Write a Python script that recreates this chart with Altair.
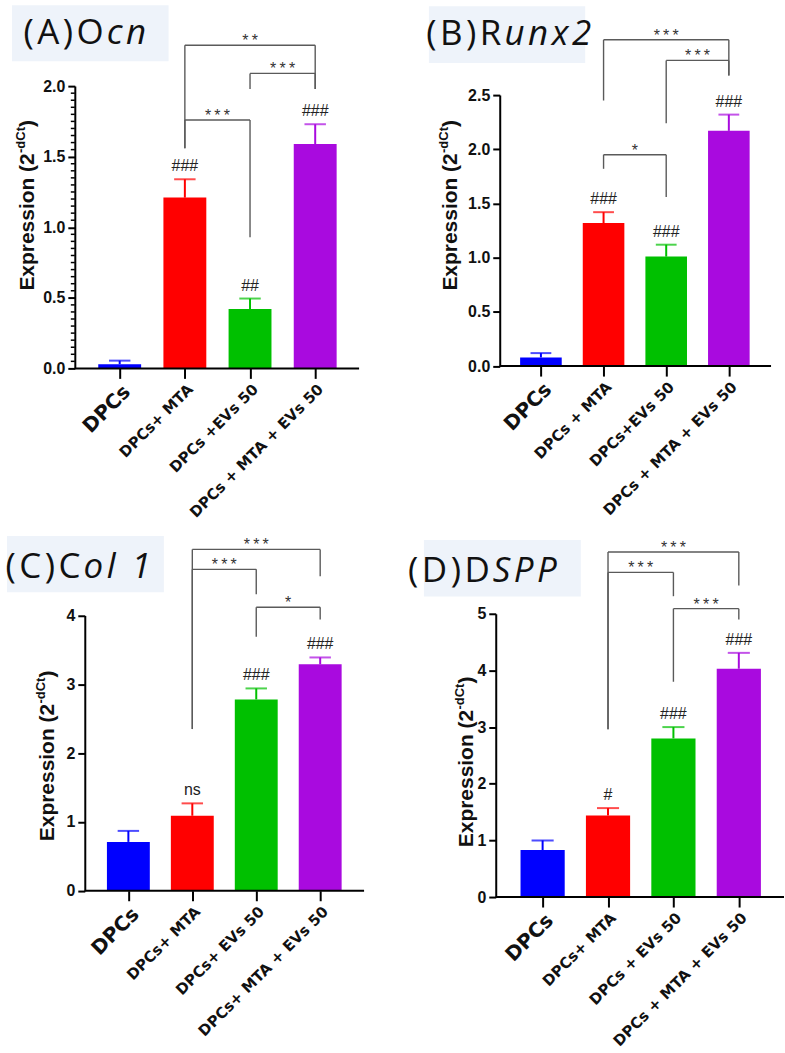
import altair as alt
import numpy as np
import pandas as pd

# ---------------------------------------------------------------- data
bar_colors = ["#0000FF", "#FF0000", "#00C000", "#A90ADF"]

labels_a = ["DPCs", "DPCs+ MTA", "DPCs +EVs 50", "DPCs + MTA + EVs 50"]
mean_a = [0.03, 1.21, 0.42, 1.59]
sem_a = [0.025, 0.13, 0.075, 0.14]
marks_a = ["", "###", "##", "###"]
# (left group, right group, bracket height, left foot, right foot, label)
brackets_a = [(1, 3, 2.29, 1.56, 1.98, "**"),
              (2, 3, 2.09, 1.98, 1.98, "***"),
              (1, 2, 1.76, 1.56, 0.93, "***")]

labels_b = ["DPCs", "DPCs + MTA", "DPCs+EVs 50", "DPCs + MTA + EVs 50"]
mean_b = [0.08, 1.32, 1.01, 2.17]
sem_b = [0.04, 0.10, 0.11, 0.15]
marks_b = ["", "###", "###", "###"]
brackets_b = [(1, 3, 3.01, 2.45, 2.68, "***"),
              (2, 3, 2.82, 2.24, 2.68, "***"),
              (1, 2, 1.95, 1.82, 1.56, "*")]

labels_c = ["DPCs", "DPCs+ MTA", "DPCs+ EVs 50", "DPCs+ MTA + EVs 50"]
mean_c = [0.71, 1.09, 2.78, 3.29]
sem_c = [0.16, 0.18, 0.16, 0.10]
marks_c = ["", "ns", "###", "###"]
brackets_c = [(1, 3, 4.96, 2.35, 4.57, "***"),
              (1, 2, 4.67, 2.35, 4.31, "***"),
              (2, 3, 4.12, 3.69, 3.94, "*")]

labels_d = ["DPCs", "DPCs+ MTA", "DPCs + EVs 50", "DPCs + MTA + EVs 50"]
mean_d = [0.83, 1.44, 2.80, 4.03]
sem_d = [0.17, 0.13, 0.20, 0.28]
marks_d = ["", "#", "###", "###"]
brackets_d = [(1, 3, 6.09, 2.96, 5.50, "***"),
              (1, 2, 5.73, 2.96, 5.31, "***"),
              (2, 3, 5.09, 3.80, 4.90, "***")]

ticks_a = [0, 0.5, 1.0, 1.5, 2.0]
ticks_b = [0, 0.5, 1.0, 1.5, 2.0, 2.5]
ticks_c = [0, 1, 2, 3, 4]
ticks_d = [0, 1, 2, 3, 4, 5]
minor_a = [round(v, 2) for v in np.arange(0.05, 2.0, 0.05) if abs(v / 0.5 - round(v / 0.5)) > 1e-6]

SANS = "Liberation Sans"
WIDE = "DejaVu Sans"
TITLE_FONT = "Open Sans"
BOX = "#EEF3FA"
INK = "#111111"
BRACKET = "#5a5a5a"
HAIR = "\u200a"
THIN = "\u2009"


def one():
    return pd.DataFrame({"k": [0]})


def panel(labels, means, sems, marks, brackets, ticks, fmt, lay, minor=None):
    n = len(labels)
    df = pd.DataFrame({
        "pos": list(range(n)),
        "mean": means,
        "upper": [m + s for m, s in zip(means, sems)],
        "mark": marks,
        "color": bar_colors,
    })
    names = ",".join("'" + s + "'" for s in labels)
    xs = alt.Scale(domain=[0, n - 1], range=lay["xr"], nice=False, zero=False, padding=0)
    ys = alt.Scale(domain=[0, ticks[-1]], range=lay["yr"], nice=False, zero=False, padding=0)
    xaxis = alt.Axis(
        values=list(range(n)), labelExpr="[" + names + "][datum.value]",
        domain=False, grid=False, title=None, offset=lay["xoff"],
        ticks=True, tickSize=10, tickWidth=2, tickColor="black",
        labelAngle=-45, labelFont=WIDE, labelFontWeight="bold", labelColor=INK,
        labelFontSize={"condition": {"test": "datum.value == 0", "value": 20}, "value": 15},
        labelPadding=3, labelOverlap=False, labelBound=False, labelFlush=False,
        labelLimit=0,
    )
    yaxis = alt.Axis(
        values=ticks, format=fmt, grid=False, title=None, offset=lay["yoff"],
        domain=True, domainWidth=2, domainColor="black",
        tickSize=7, tickWidth=2, tickColor="black",
        labelFont=SANS, labelFontWeight="bold", labelFontSize=16, labelColor=INK,
        labelPadding=3, labelFlush=False, labelOverlap=False,
    )

    def X(f):
        return alt.X(f, scale=xs, axis=xaxis)

    def Y(f):
        return alt.Y(f, scale=ys, axis=yaxis)

    C = alt.Color("color:N", scale=None)
    base = alt.Chart(df)
    bars = base.mark_bar(width=lay["bw"], orient="vertical").encode(
        x=X("pos:Q"), y=Y("mean:Q"), color=C)
    err = base.mark_rule(strokeWidth=2).encode(
        x=X("pos:Q"), y=Y("mean:Q"), y2="upper:Q", color=C)
    caps = base.mark_tick(orient="horizontal", size=lay["bw"] / 2, thickness=2).encode(
        x=X("pos:Q"), y=Y("upper:Q"), color=C)
    hashes = base.mark_text(font=SANS, fontSize=16, color="#222222", dy=-8,
                            baseline="alphabetic").encode(
        x=X("pos:Q"), y=Y("upper:Q"), text="mark:N")

    segs = []
    tags = []
    for l, r, top, fl, fr, lab in brackets:
        segs.append({"x": l, "x2": r, "y": top, "y2": top})
        segs.append({"x": l, "x2": l, "y": fl, "y2": top})
        segs.append({"x": r, "x2": r, "y": fr, "y2": top})
        tags.append({"x": (l + r) / 2, "y": top, "t": THIN.join(lab)})
    seg_chart = alt.Chart(pd.DataFrame(segs)).mark_rule(
        color=BRACKET, strokeWidth=1.4).encode(
        x=X("x:Q"), x2="x2:Q", y=Y("y:Q"), y2="y2:Q")
    tag_chart = alt.Chart(pd.DataFrame(tags)).mark_text(
        font=SANS, fontSize=16, color="#333333", baseline="alphabetic", dy=1).encode(
        x=X("x:Q"), y=Y("y:Q"), text="t:N")

    x0, x1 = lay["xline"]
    xline = alt.Chart(one()).mark_rule(color="black", strokeWidth=2).encode(
        x=alt.value(x0), x2=alt.value(x1), y=alt.value(lay["yr"][0]))

    # panel heading on a tinted card
    bx0, by0, bx1, by1 = lay["box"]
    card = alt.Chart(one()).mark_rect(color=BOX).encode(
        x=alt.value(bx0), x2=alt.value(bx1), y=alt.value(by0), y2=alt.value(by1))
    hy, ix = lay["head"]
    head1 = alt.Chart(one()).mark_text(
        text=HAIR.join(lay["h1"]), font=TITLE_FONT, fontSize=35, align="right",
        baseline="alphabetic", color="#111111").encode(x=alt.value(ix - 3), y=alt.value(hy))
    head2 = alt.Chart(one()).mark_text(
        text=HAIR.join(lay["h2"]), font=TITLE_FONT, fontSize=35, fontStyle="italic",
        align="left", baseline="alphabetic", color="#111111").encode(
        x=alt.value(ix), y=alt.value(hy))

    # y-axis title with a raised exponent
    tx, ty = lay["ytitle"]
    t_main = alt.Chart(one()).mark_text(
        text="Expression (2", font=SANS, fontWeight="bold", fontSize=21, angle=270,
        align="left", baseline="middle", color=INK).encode(x=alt.value(tx), y=alt.value(ty))
    t_sup = alt.Chart(one()).mark_text(
        text="-dCt", font=SANS, fontWeight="bold", fontSize=13, angle=270,
        align="left", baseline="middle", color=INK).encode(
        x=alt.value(tx - 7), y=alt.value(ty - 138))
    t_end = alt.Chart(one()).mark_text(
        text=")", font=SANS, fontWeight="bold", fontSize=21, angle=270,
        align="left", baseline="middle", color=INK).encode(
        x=alt.value(tx), y=alt.value(ty - 164))

    layers = [card, head1, head2, t_main, t_sup, t_end, bars, err, caps,
              hashes, seg_chart, tag_chart, xline]
    if minor is not None:
        mdf = pd.DataFrame({"v": minor})
        layers.append(alt.Chart(mdf).mark_rule(color="black", strokeWidth=1.5).encode(
            y=Y("v:Q"), x=alt.value(-lay["yoff"] - 4), x2=alt.value(-lay["yoff"])))
    return alt.layer(*layers).properties(width=lay["w"], height=lay["h"])


lay_a = dict(w=290, h=283, xr=[45, 241], bw=43, yr=[283, 0], xoff=0, yoff=0,
             xline=(0, 285), box=(-63, -81, 94, -25), head=(-42, 32),
             h1="(A)O", h2="cn", ytitle=(-47, 205))
lay_b = dict(w=289, h=283, xr=[45.3, 233.7], bw=41.7, yr=[280.7, 9], xoff=-2.3, yoff=-4,
             xline=(4, 276), box=(-67, -80, 89.7, -23.3), head=(-41.7, 8.7),
             h1="(B)R", h2="unx2", ytitle=(-45, 205))
lay_c = dict(w=290, h=284, xr=[53.7, 246], bw=43, yr=[277.7, 1.7], xoff=-6.3, yoff=-10,
             xline=(10, 290), box=(-68, -78, 89.3, -21.7), head=(-36, 8.7),
             h1="(C)C", h2="ol 1", ytitle=(-27, 228))
lay_d = dict(w=289, h=284, xr=[47, 243.7], bw=44.3, yr=[284, 0], xoff=0, yoff=0,
             xline=(0, 289), box=(-72, -74, 85.3, -17.3), head=(-32.3, -3),
             h1="(D)D", h2="SPP", ytitle=(-29, 234))

pa = panel(labels_a, mean_a, sem_a, marks_a, brackets_a, ticks_a, ".1f", lay_a, minor=minor_a)
pb = panel(labels_b, mean_b, sem_b, marks_b, brackets_b, ticks_b, ".1f", lay_b)
pc = panel(labels_c, mean_c, sem_c, marks_c, brackets_c, ticks_c, "d", lay_c)
pd_ = panel(labels_d, mean_d, sem_d, marks_d, brackets_d, ticks_d, "d", lay_d)

chart = alt.concat(
    pa, pb, pc, pd_, columns=2, bounds="flush",
    spacing={"row": 246, "column": 132},
).properties(
    padding={"left": 5, "top": 4, "right": 0, "bottom": 0},
).configure_view(stroke=None)

chart.save("out.html", embed_options={"renderer": "svg", "actions": False})
